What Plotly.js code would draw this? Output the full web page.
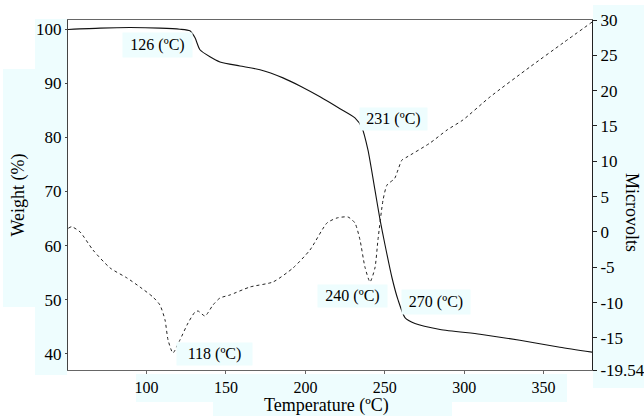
<!DOCTYPE html>
<html><head><meta charset="utf-8">
<script src="https://cdn.plot.ly/plotly-3.0.1.min.js"></script>
<style>html,body{margin:0;padding:0;background:#fff}#chart{width:644px;height:416px}</style>
</head><body><div id="chart"></div>
<script>
// Weight (%) curve – solid, left axis
const weightTemp = [50.5,70.7,89.5,108.4,121,127.3,130.5,133.6,139.9,146.2,158.8,171.4,185.9,196.6,209.2,221.8,231.2,235.6,239.4,243.8,247.0,250.1,254.5,258.3,262.7,269.0,284.8,310,335.1,360.3,380.5];
const weightVal  = [99.95,100.2,100.3,100.2,100.0,99.7,98.4,96.2,94.9,93.95,93.2,92.5,91.0,89.5,87.5,85.3,83.6,81.8,77.7,70.3,64.8,60.2,54.1,50.0,46.7,45.6,44.5,43.6,42.5,41.2,40.3];
// DTA curve (Microvolts) – dotted, right axis
const dtaTemp = [50.7,52.8,58.1,66.2,77.0,87.7,95.8,104.0,108.4,111.6,113.5,116.6,121.0,126.1,130.5,132.4,136.8,141.8,146.2,152.5,165.1,179.6,192.2,202.9,213.6,219.9,226.8,231.2,234.4,237.5,240.7,243.8,245.7,248.9,251.4,255.2,256.4,258.3,260.8,264.0,278.5,289.2,299.2,316.2,341.4,362.2,380.5];
const dtaVal  = [0.52,0.74,0.0,-2.55,-5.1,-6.52,-7.79,-9.21,-10.34,-12.46,-15.29,-17.13,-15.29,-12.89,-11.33,-11.19,-11.9,-10.34,-9.35,-8.92,-7.79,-7.08,-5.1,-2.55,1.27,1.98,2.12,1.27,-1.14,-4.96,-7.08,-5.1,-1.14,4.52,6.65,7.35,7.64,8.77,10.18,10.61,12.59,14.43,15.85,19.1,23.35,26.74,29.7];
// Tick labels
const xTicks = [100,150,200,250,300,350];
const leftTicks = [40,50,60,70,80,90,100];
const rightTicks = [30,25,20,15,10,5,0,-5,-10,-15,-19.54];
const rightTickText = ["30","25","20","15","10","5","0","-5","-10","-15","-19.54"];
// Annotation labels
const noteText = ["126 (ºC)","231 (ºC)","240 (ºC)","270 (ºC)","118 (ºC)"];

const L=68,R=592,T=20,B=370,W=R-L,H=B-T;
const px=x=>(x-L)/W, py=y=>(B-y)/H;
const cyan="#eefdfe";
function rect(x0,y0,x1,y1){return {type:'rect',xref:'paper',yref:'paper',x0:px(x0),x1:px(x1),y0:py(y1),y1:py(y0),fillcolor:cyan,line:{width:0},layer:'below'};}
const notePos=[[157.5,45,69,24],[393.5,119,67,22],[352.5,296,69,22],[436,302,68,24],[214.5,354,75,22]];
const font={family:'Liberation Serif, Times New Roman, serif',color:'#000'};

const annotations = noteText.map((t,i)=>({text:t,xref:'paper',yref:'paper',x:px(notePos[i][0]),y:py(notePos[i][1]),xanchor:'center',yanchor:'middle',showarrow:false,font:Object.assign({size:16},font),bgcolor:cyan,width:notePos[i][2]-4,height:notePos[i][3]-4,borderpad:2}));
annotations.push({text:'Microvolts',textangle:90,xref:'paper',yref:'paper',x:px(632),y:py(212),xanchor:'center',yanchor:'middle',showarrow:false,font:Object.assign({size:18},font)});
annotations.push({text:'Temperature (ºC)',xref:'paper',yref:'paper',x:px(326),y:py(406),xanchor:'center',yanchor:'middle',showarrow:false,font:Object.assign({size:18},font)});

const traces=[
 {x:weightTemp,y:weightVal,type:'scatter',mode:'lines',line:{color:'#111',width:1.1,shape:'spline',smoothing:0.6},yaxis:'y',hoverinfo:'skip'},
 {x:dtaTemp,y:dtaVal,type:'scatter',mode:'lines',line:{color:'#222',width:1,dash:'dot',shape:'spline',smoothing:0.6},yaxis:'y2',hoverinfo:'skip'}
];
const layout={
 width:644,height:416,margin:{l:L,r:644-R,t:T,b:416-B,pad:0},
 paper_bgcolor:'#fff',plot_bgcolor:'#fff',showlegend:false,font:Object.assign({size:16},font),
 xaxis:{range:[50.5,380.5],tickvals:xTicks,ticks:'outside',ticklen:3,tickcolor:'#666',showline:true,linecolor:'#666',linewidth:1,mirror:true,showgrid:false,zeroline:false,
   tickfont:Object.assign({size:16},font)},
 yaxis:{range:[37.0,101.7],tickvals:leftTicks,ticks:'outside',ticklen:2,tickcolor:'#444',showline:true,linecolor:'#444',linewidth:1,showgrid:false,zeroline:false,
   title:{text:'Weight (%)',font:Object.assign({size:18},font),standoff:6},tickfont:Object.assign({size:17},font)},
 yaxis2:{range:[-19.54,30],overlaying:'y',side:'right',tickvals:rightTicks,ticktext:rightTickText,ticks:'outside',ticklen:4,tickcolor:'#222',showline:true,linecolor:'#222',linewidth:1,showgrid:false,zeroline:false,tickfont:Object.assign({size:17},font)},
 shapes:[rect(35,19,67,375),rect(3,69,35,307),rect(593,5,644,388),rect(136,374,567,402),rect(213,402,452,416)],
 annotations:annotations
};
Plotly.newPlot('chart',traces,layout,{staticPlot:true,displayModeBar:false});
</script></body></html>
